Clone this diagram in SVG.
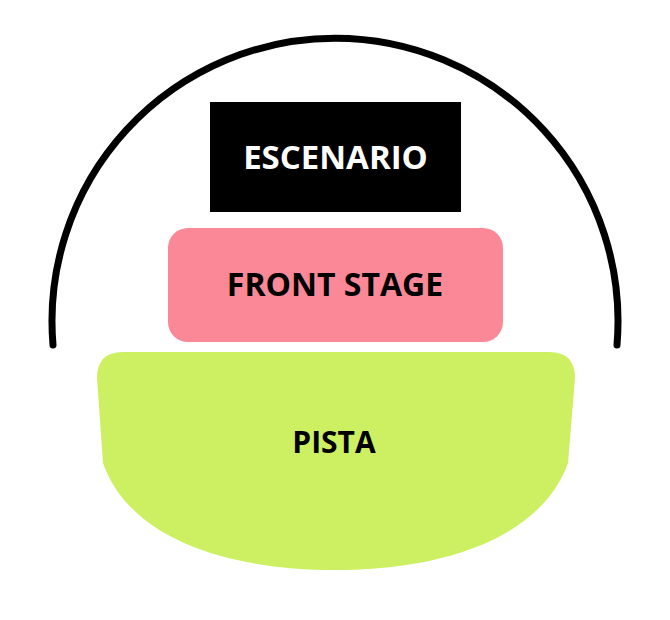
<svg xmlns="http://www.w3.org/2000/svg" width="670" height="620" viewBox="0 0 670 620">
<style>
.lbl{font-family:"Open Sans","Noto Sans","Liberation Sans",sans-serif;font-weight:700;text-anchor:middle}
</style>
<rect width="670" height="620" fill="#ffffff"/>
<g id="connectors">
<path d="M 53 345 A 283 283 0 1 1 617 345" fill="none" stroke="#000" stroke-width="7" stroke-linecap="round"/>
</g>
<g id="escenario">
<rect x="210" y="102" width="251" height="110" fill="#000"/>
<text class="lbl" x="335.5" y="169" font-size="33" fill="#fff">ESCENARIO</text>
</g>
<g id="front-stage">
<rect x="168" y="228" width="335" height="114" rx="20" fill="#fa8896"/>
<text class="lbl" x="335" y="296" font-size="32" fill="#000">FRONT STAGE</text>
</g>
<g id="pista">
<path d="M 123 352 H 549 Q 575 352 575 378 L 568 463 C 540 540 440 570 335 570 C 230 570 130 540 103 463 L 97 378 Q 97 352 123 352 Z" fill="#cdf062"/>
<text class="lbl" x="334" y="453" font-size="30" fill="#000">PISTA</text>
</g>
</svg>
